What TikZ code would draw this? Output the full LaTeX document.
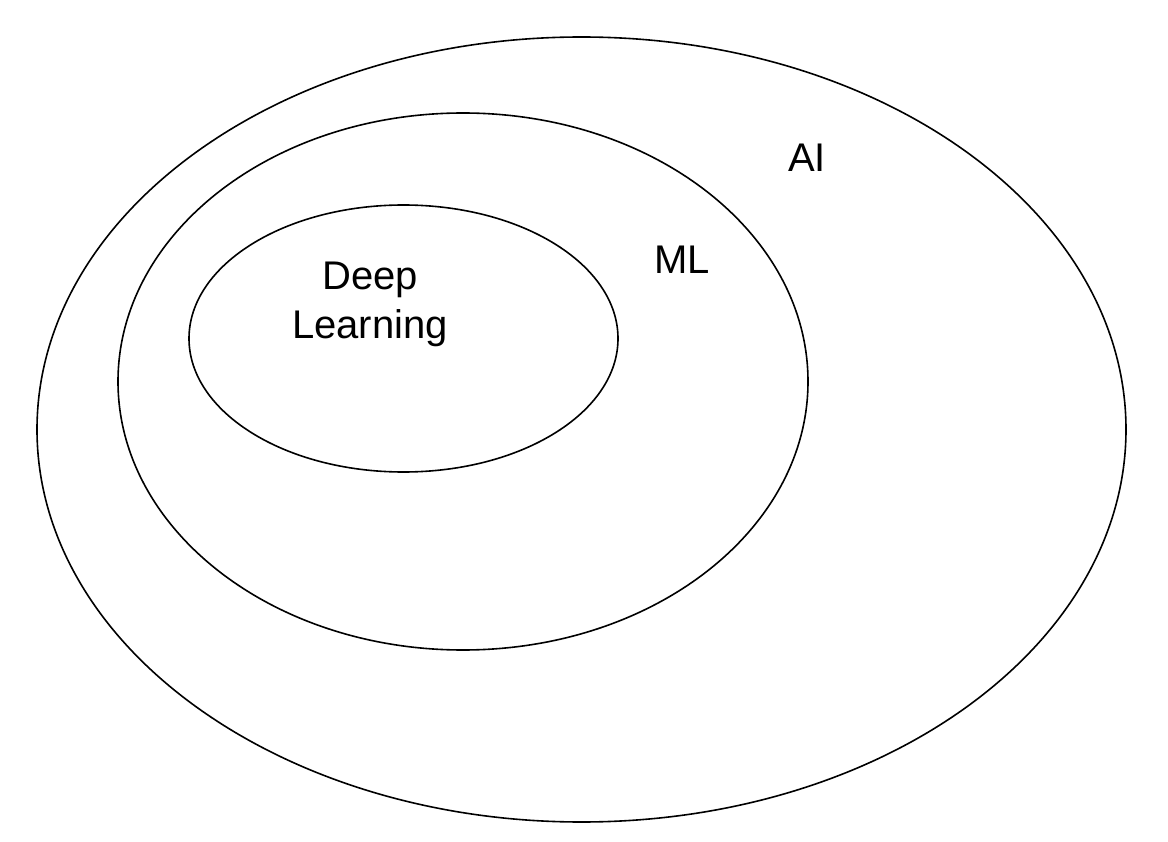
\documentclass[tikz,border=0pt]{standalone}
\usepackage{fontspec}
\setmainfont{Liberation Sans}
\begin{document}
\begin{tikzpicture}[x=1pt,y=-1pt,
  setline/.style={draw=black,line width=1.6pt},
  lbl/.style={font=\fontsize{40}{49}\selectfont,inner sep=0pt,align=center}]
\useasboundingbox[fill=white] (0,0) rectangle (1168,842);
\draw[setline] (581.5,429.5) ellipse [x radius=544.5, y radius=392.5];
\draw[setline] (463,381.5) ellipse [x radius=345, y radius=268.5];
\draw[setline] (403.5,338.5) ellipse [x radius=214.5, y radius=133.5];
\node[lbl,anchor=base] (ai) at (807,172) {AI};
\node[lbl,anchor=base] (ml) at (682,274) {ML};
\node[lbl] (dl) at (370,304) {Deep\\Learning};
\end{tikzpicture}
\end{document}
